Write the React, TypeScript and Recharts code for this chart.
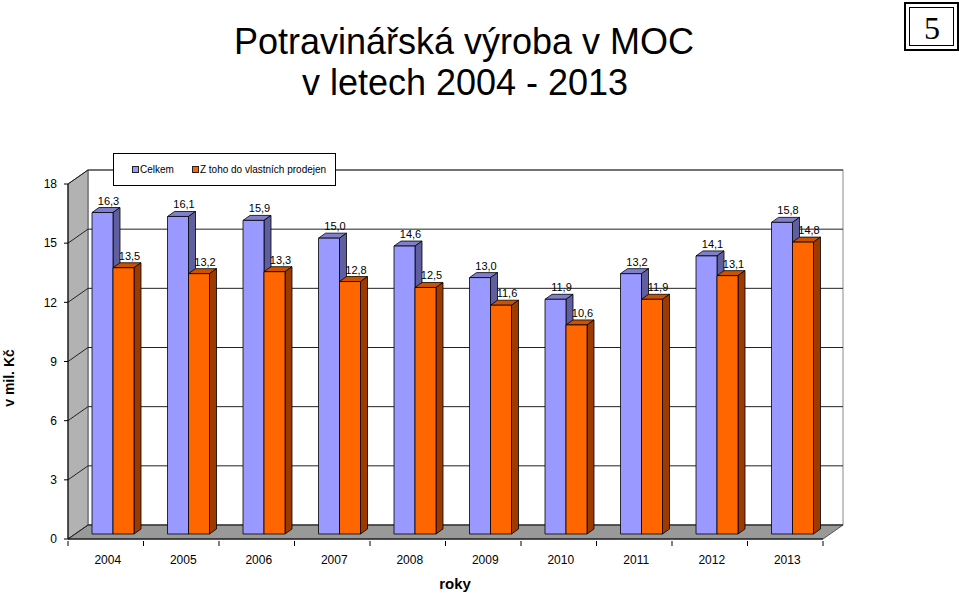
import React from "react";
import { BarChart, Bar, XAxis, YAxis, CartesianGrid, Legend, LabelList } from "recharts";

// data
const YEARS = ["2004", "2005", "2006", "2007", "2008", "2009", "2010", "2011", "2012", "2013"];
const CELKEM = [16.3, 16.1, 15.9, 15.0, 14.6, 13.0, 11.9, 13.2, 14.1, 15.8];
const VLASTNI = [13.5, 13.2, 13.3, 12.8, 12.5, 11.6, 10.6, 11.9, 13.1, 14.8];
const Y_TICKS = [0, 3, 6, 9, 12, 15, 18];

const data = YEARS.map((rok, i) => ({ rok, celkem: CELKEM[i], vlastni: VLASTNI[i] }));

const FONT = "Arial, 'Liberation Sans', sans-serif";
// hloubka 3D steny a sloupcu
const DX = 20;
const DY = 14;
const BDX = 7;
const BDY = 5;

const make3DBar = (top: string, side: string) => (props: any) => {
  const { x, y, width, height, fill } = props;
  if (height == null || isNaN(y)) return null;
  const fx = x + BDX;
  const fy = y - BDY;
  const rx = fx + width;
  const by = fy + height;
  return (
    <g stroke="#000" strokeWidth={0.8} strokeLinejoin="round">
      <polygon points={`${fx},${fy} ${rx},${fy} ${rx + BDX},${fy - BDY} ${fx + BDX},${fy - BDY}`} fill={top} />
      <polygon points={`${rx},${fy} ${rx + BDX},${fy - BDY} ${rx + BDX},${by - BDY} ${rx},${by}`} fill={side} />
      <rect x={fx} y={fy} width={width} height={height} fill={fill} />
    </g>
  );
};

const CelkemBar = make3DBar("#7f7fcc", "#5f5f9f");
const VlastniBar = make3DBar("#cc5200", "#9c3a00");

const gridLine = (props: any) => {
  const { x1, y1, x2, index, horizontalPoints } = props;
  const pts: number[] = horizontalPoints || [y1];
  const top = props.y ?? Math.min(...pts);
  const h = props.height ?? Math.max(...pts) - top;
  const left = props.x ?? x1;
  const w = props.width ?? x2 - x1;
  const bottom = top + h;
  return (
    <g key={`grid-${index}`}>
      {index === 0 && (
        <g>
          <rect x={left + DX} y={top - DY} width={w} height={h} fill="#fff" stroke="#8a8a8a" />
          <polygon
            points={`${left},${top} ${left + DX},${top - DY} ${left + DX},${bottom - DY} ${left},${bottom}`}
            fill="#b2b2b2"
            stroke="#555"
          />
          <polygon
            points={`${left},${bottom} ${left + w},${bottom} ${left + w + DX},${bottom - DY} ${left + DX},${bottom - DY}`}
            fill="#999"
            stroke="#555"
          />
        </g>
      )}
      <line x1={x1 + DX} y1={y1 - DY} x2={x2 + DX} y2={y1 - DY} stroke="#222" />
      <line x1={x1} y1={y1} x2={x1 + DX} y2={y1 - DY} stroke="#222" />
    </g>
  );
};

const YearTick = (props: any) => {
  const { x, y, payload, index, visibleTicksCount } = props;
  const half = payload.offset || 37.75;
  return (
    <g>
      <line x1={x - half} y1={y} x2={x - half} y2={y + 5} stroke="#000" />
      {index === visibleTicksCount - 1 && (
        <line x1={x + half} y1={y} x2={x + half} y2={y + 5} stroke="#000" />
      )}
      <text x={x + 2} y={y + 23} textAnchor="middle" fontSize={12} fontFamily={FONT} fill="#000">
        {payload.value}
      </text>
    </g>
  );
};

const ValueLabel = (props: any) => {
  const { x, y, width, value } = props;
  if (value == null) return null;
  return (
    <text x={x + width / 2 + 13} y={y - 13} textAnchor="middle" fontSize={11} fontFamily={FONT} fill="#000">
      {Number(value).toFixed(1).replace(".", ",")}
    </text>
  );
};

const renderLegend = (props: any) => {
  const { payload = [] } = props;
  return (
    <div
      style={{
        border: "1px solid #000",
        background: "#fff",
        width: 223,
        height: 33,
        boxSizing: "border-box",
        display: "flex",
        alignItems: "center",
        paddingLeft: 18,
        fontFamily: FONT,
        fontSize: 10,
        color: "#000",
        whiteSpace: "nowrap",
      }}
    >
      {payload.map((p: any, i: number) => (
        <div key={i} style={{ display: "flex", alignItems: "center", marginRight: i === 0 ? 18 : 0 }}>
          <span
            style={{
              display: "inline-block",
              width: 5,
              height: 5,
              background: p.color,
              border: "1px solid #222",
              marginRight: 1,
            }}
          />
          <span>{p.value}</span>
        </div>
      ))}
    </div>
  );
};

export default function App() {
  return (
    <div style={{ position: "absolute", left: 0, top: 0, width: 959, height: 594, background: "#fff" }}>
      <BarChart
        width={959}
        height={594}
        data={data}
        margin={{ top: 184, right: 136, left: 8, bottom: 0 }}
        barGap={0}
        barSize={21}
      >
        <CartesianGrid vertical={false} horizontal={gridLine} />
        <XAxis
          dataKey="rok"
          interval={0}
          height={55}
          tickSize={0}
          tickLine={false}
          axisLine={{ stroke: "#000" }}
          tick={<YearTick />}
        />
        <YAxis
          domain={[0, 18]}
          ticks={Y_TICKS}
          interval={0}
          width={60}
          tickSize={4}
          tickMargin={7}
          axisLine={{ stroke: "#000" }}
          tickLine={{ stroke: "#000" }}
          tick={{ fontSize: 12, fill: "#000", fontFamily: FONT }}
        />
        <Legend
          layout="horizontal"
          verticalAlign="middle"
          align="center"
          wrapperStyle={{ left: 113, top: 153, width: "auto", height: "auto" }}
          content={renderLegend}
        />
        <Bar dataKey="celkem" name="Celkem" fill="#9999ff" shape={CelkemBar} isAnimationActive={false}>
          <LabelList dataKey="celkem" content={<ValueLabel />} />
        </Bar>
        <Bar dataKey="vlastni" name="Z toho do vlastních prodejen" fill="#ff6600" shape={VlastniBar} isAnimationActive={false}>
          <LabelList dataKey="vlastni" content={<ValueLabel />} />
        </Bar>
      </BarChart>
      <svg
        width={959}
        height={594}
        style={{ position: "absolute", left: 0, top: 0, pointerEvents: "none" }}
      >
        <text x={464} y={54} textAnchor="middle" fontSize={36} fontFamily={FONT} fill="#000">
          Potravinářská výroba v MOC
        </text>
        <text x={465} y={95} textAnchor="middle" fontSize={36} fontFamily={FONT} fill="#000">
          v letech 2004 - 2013
        </text>
        <rect x={905} y={3} width={53} height={47} fill="none" stroke="#000" strokeWidth={2} />
        <rect x={909.5} y={7.5} width={44} height={38} fill="none" stroke="#000" strokeWidth={1} />
        <text x={932} y={39} textAnchor="middle" fontSize={32} fontFamily="'Liberation Serif', 'Times New Roman', serif" fill="#000">
          5
        </text>
        <text
          x={0}
          y={0}
          transform="translate(14, 378) rotate(-90)"
          textAnchor="middle"
          fontSize={14}
          fontWeight="bold"
          fontFamily={FONT}
          fill="#000"
        >
          v mil. Kč
        </text>
        <text x={455} y={589} textAnchor="middle" fontSize={15} fontWeight="bold" fontFamily={FONT} fill="#000">
          roky
        </text>
      </svg>
    </div>
  );
}
